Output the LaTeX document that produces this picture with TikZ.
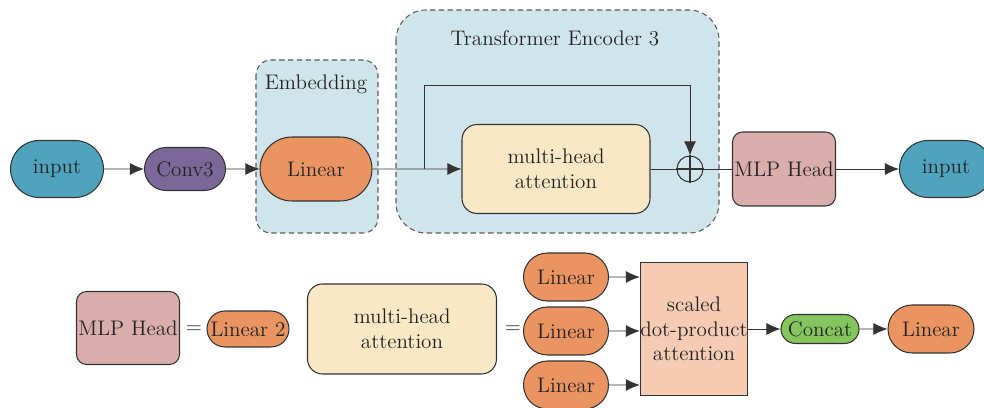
\documentclass[tikz,border=0pt]{standalone}
\usepackage{tikz}
\usetikzlibrary{shapes.misc, arrows.meta}
\definecolor{linec}{HTML}{333333}
\definecolor{textc}{HTML}{222222}
\definecolor{inblue}{HTML}{4FA3BC}
\definecolor{convpurple}{HTML}{7B6798}
\definecolor{linorange}{HTML}{EA9462}
\definecolor{regionblue}{HTML}{CFE5EB}
\definecolor{attbeige}{HTML}{F9E8C6}
\definecolor{mlppink}{HTML}{DBAEAE}
\definecolor{sdpapeach}{HTML}{F6CBB4}
\definecolor{catgreen}{HTML}{85C55E}

\begin{document}
\begin{tikzpicture}[x=0.02cm, y=-0.02cm, font=\large, text=textc,
    pill/.style={rounded rectangle, draw=linec, line width=0.6pt, inner sep=0pt},
    block/.style={rectangle, rounded corners=0.3cm, draw=linec, line width=0.6pt, inner sep=0pt, align=center},
    region/.style={draw=linec!80, fill=regionblue, dash pattern=on 3pt off 2pt, line width=0.6pt},
    arr/.style={draw=linec, line width=0.55pt, -{Latex[length=2.8mm, width=2.4mm]}},
    link/.style={draw=linec, line width=0.55pt}]
                \useasboundingbox (0,0) rectangle (984,408);
                \draw[region, rounded corners=0.3cm] (256,60) rectangle (378,233);
                \draw[region, rounded corners=0.6cm] (396,10) rectangle (719,233);
                \node (embtitle) at (316,84) {Embedding};
                \node (enctitle) at (555,38) {Transformer Encoder 3};
                \node[pill, fill=inblue, minimum width=1.86cm, minimum height=1.14cm] (in) at (57,169) {input};
                \node[pill, fill=convpurple, minimum width=1.62cm, minimum height=0.86cm] (conv) at (185,169) {Conv3};
                \node[pill, fill=linorange, minimum width=2.24cm, minimum height=1.28cm] (lin) at (316,169) {Linear};
                \node[block, fill=attbeige, minimum width=3.76cm, minimum height=1.78cm] (mha) at (556,169) {multi-head\\attention};
                \node[circle, draw=linec, line width=0.6pt, minimum size=0.52cm, inner sep=0pt] (sum) at (690,169) {};
                \draw[link, line width=0.8pt] (sum.north) -- (sum.south) (sum.west) -- (sum.east);
                \node[block, fill=mlppink, rounded corners=0.2cm, minimum width=2.06cm, minimum height=1.48cm] (mlp) at (784,169) {MLP Head};
                \node[pill, fill=inblue, minimum width=1.86cm, minimum height=1.14cm] (out) at (946,169) {input};
                \coordinate (split) at (424,169);
                \coordinate (loop) at (424,85);
                \draw[arr] (in) -- (conv);
                \draw[arr] (conv) -- (lin);
                \draw[arr] (lin) -- (mha);
                \draw[arr] (split) -- (loop) -| (sum);
                \draw[link] (mha) -- (sum) -- (mlp);
                \draw[arr] (mlp) -- (out);
                % lower row
                \node[block, fill=mlppink, rounded corners=0.2cm, minimum width=2.06cm, minimum height=1.46cm] (mlpdef) at (128,328) {MLP Head};
                \node (eqa) at (194,330) {=};
                \node[pill, fill=linorange, minimum width=1.64cm, minimum height=0.72cm] (lintwo) at (248,329) {Linear 2};
                \node[block, fill=attbeige, minimum width=3.78cm, minimum height=1.8cm] (mhadef) at (402,329) {multi-head\\attention};
                \node (eqb) at (513,330) {=};
                \node[rectangle, draw=linec, line width=0.6pt, fill=sdpapeach, inner sep=0pt, align=center, minimum width=2.14cm, minimum height=2.66cm] (sdpa) at (694,329) {scaled\\dot-product\\attention};
                \foreach \n/\y in {q/277, k/331, v/385} {
                    \node[pill, fill=linorange, minimum width=1.7cm, minimum height=0.96cm] (\n) at (566,\y) {Linear};
                    \draw[arr] (\n) -- (sdpa.west |- \n);
                }
                \node[pill, fill=catgreen, minimum width=1.56cm, minimum height=0.58cm] (cat) at (820,329) {Concat};
                \node[pill, fill=linorange, minimum width=1.72cm, minimum height=0.96cm] (linout) at (931,329) {Linear};
                \draw[arr] (sdpa) -- (cat);
                \draw[arr] (cat) -- (linout);
            \end{tikzpicture}
\end{document}
